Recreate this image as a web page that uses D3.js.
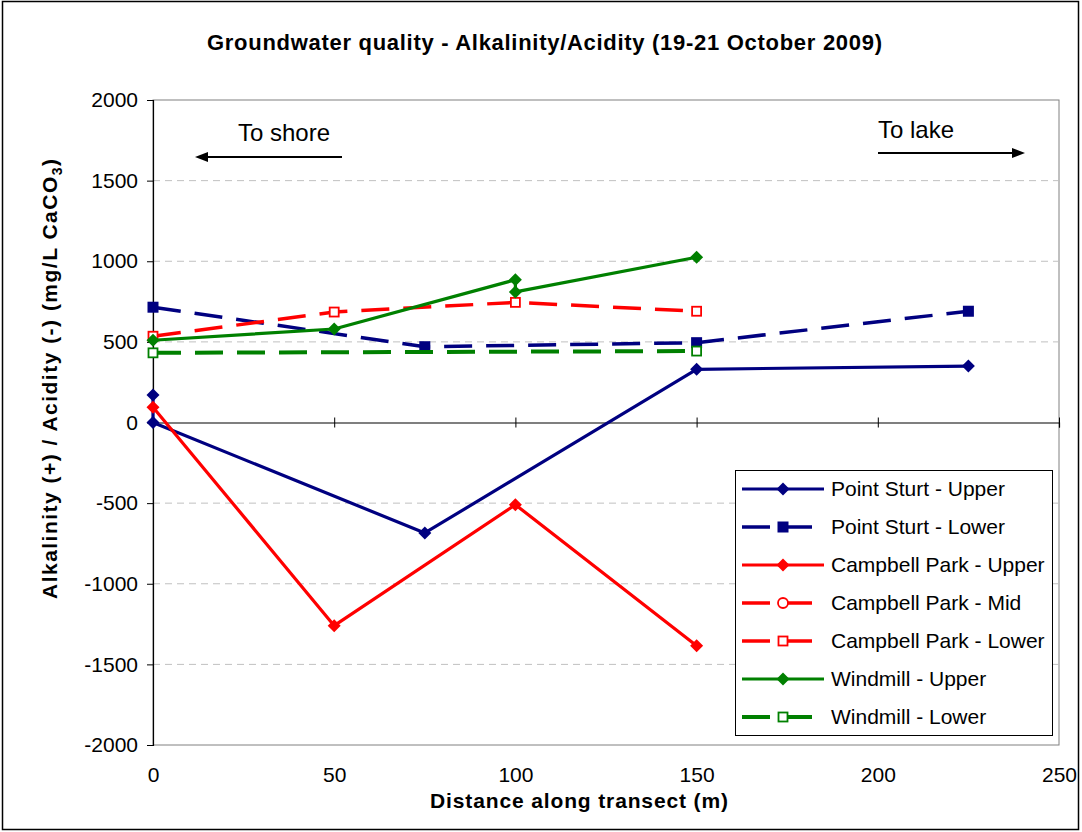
<!DOCTYPE html>
<html>
<head>
<meta charset="utf-8">
<script src="https://cdn.jsdelivr.net/npm/d3@7"></script>
<style>
  html, body { margin: 0; padding: 0; background: #fff; }
  svg { display: block; font-family: Arial, "Liberation Sans", sans-serif; }
</style>
</head>
<body>
<svg id="chart" width="1082" height="832"></svg>
<script>
// Alkalinity (+) / acidity (-) along each transect, mg/L CaCO3
const xTicks = [0, 50, 100, 150, 200, 250];
const yTicks = [-2000, -1500, -1000, -500, 0, 500, 1000, 1500, 2000];

const pointSturtUpperX = [0, 0, 75, 150, 225];
const pointSturtUpperY = [170, 0, -685, 330, 350];

const pointSturtLowerX = [0, 75, 150, 225];
const pointSturtLowerY = [715, 470, 495, 690];

const campbellUpperX = [0, 50, 100, 150];
const campbellUpperY = [95, -1260, -510, -1385];

const campbellMidX = [];
const campbellMidY = [];

const campbellLowerX = [0, 50, 100, 150];
const campbellLowerY = [535, 685, 745, 690];

const windmillUpperX = [0, 50, 100, 100, 150];
const windmillUpperY = [510, 580, 885, 810, 1025];

const windmillLowerX = [0, 150];
const windmillLowerY = [432, 443];

const seriesNames = [
  "Point Sturt - Upper", "Point Sturt - Lower",
  "Campbell Park - Upper", "Campbell Park - Mid", "Campbell Park - Lower",
  "Windmill - Upper", "Windmill - Lower"
];

const NAVY = "#000080", RED = "#FF0000", GREEN = "#008000";

const series = [
  { name: seriesNames[0], xs: pointSturtUpperX, ys: pointSturtUpperY, color: NAVY,  dash: null,    width: 3.2, marker: "diamond" },
  { name: seriesNames[1], xs: pointSturtLowerX, ys: pointSturtLowerY, color: NAVY,  dash: "28,14", width: 3.5, marker: "square" },
  { name: seriesNames[2], xs: campbellUpperX,   ys: campbellUpperY,   color: RED,   dash: null,    width: 3.2, marker: "diamond" },
  { name: seriesNames[3], xs: campbellMidX,     ys: campbellMidY,     color: RED,   dash: "28,14", width: 3.5, marker: "circleOpen" },
  { name: seriesNames[4], xs: campbellLowerX,   ys: campbellLowerY,   color: RED,   dash: "28,14", width: 3.5, marker: "squareOpen" },
  { name: seriesNames[5], xs: windmillUpperX,   ys: windmillUpperY,   color: GREEN, dash: null,    width: 3.2, marker: "diamond" },
  { name: seriesNames[6], xs: windmillLowerX,   ys: windmillLowerY,   color: GREEN, dash: "28,14", width: 4,   marker: "squareOpen" }
];

const svg = d3.select("#chart");

// outer chart frame
svg.append("rect")
  .attr("x", 2.5).attr("y", 1.5).attr("width", 1076).attr("height", 828)
  .attr("fill", "#fff").attr("stroke", "#000").attr("stroke-width", 1.5);

const plot = { left: 153, right: 1059, top: 100, bottom: 745 };

const x = d3.scaleLinear().domain([0, 250]).range([plot.left, plot.right]);
const y = d3.scaleLinear().domain([-2000, 2000]).range([plot.bottom, plot.top]);

const plainNumber = d => String(d);

// title
svg.append("text")
  .attr("x", 544.5).attr("y", 50)
  .attr("text-anchor", "middle")
  .attr("font-size", 22).attr("font-weight", "bold")
  .attr("textLength", 675)
  .text("Groundwater quality - Alkalinity/Acidity (19-21 October 2009)");

// plot area border
svg.append("rect")
  .attr("x", plot.left).attr("y", plot.top)
  .attr("width", plot.right - plot.left).attr("height", plot.bottom - plot.top)
  .attr("fill", "none").attr("stroke", "#808080").attr("stroke-width", 1);

// horizontal gridlines
svg.append("g")
  .selectAll("line")
  .data(yTicks.filter(v => v !== 0 && v !== 2000 && v !== -2000))
  .join("line")
  .attr("x1", plot.left).attr("x2", plot.right)
  .attr("y1", d => y(d)).attr("y2", d => y(d))
  .attr("stroke", "#c0c0c0").attr("stroke-width", 1)
  .attr("stroke-dasharray", "7,5");

// y axis
const yAxis = svg.append("g")
  .attr("transform", `translate(${plot.left},0)`)
  .call(d3.axisLeft(y).tickValues(yTicks).tickSize(6).tickPadding(9).tickFormat(plainNumber));
yAxis.select(".domain").attr("stroke", "#000").attr("stroke-width", 1.2);
yAxis.selectAll(".tick line").attr("stroke", "#000");
yAxis.selectAll(".tick text")
  .attr("font-size", 21).attr("font-family", "Arial, 'Liberation Sans', sans-serif")
  .attr("fill", "#000");

// x axis through zero, with ticks crossing the line
const xAxis = svg.append("g")
  .attr("transform", `translate(0,${y(0)})`)
  .call(d3.axisBottom(x).tickValues(xTicks).tickSize(5).tickFormat(""));
xAxis.select(".domain").attr("stroke", "#000").attr("stroke-width", 1.2);
xAxis.selectAll(".tick line").attr("y1", -5).attr("y2", 5).attr("stroke", "#000");

// x tick labels along the bottom edge
const xLabels = svg.append("g")
  .attr("transform", `translate(0,${plot.bottom})`)
  .call(d3.axisBottom(x).tickValues(xTicks).tickSize(0).tickPadding(22).tickFormat(plainNumber));
xLabels.select(".domain").remove();
xLabels.selectAll(".tick text")
  .attr("font-size", 21).attr("font-family", "Arial, 'Liberation Sans', sans-serif")
  .attr("fill", "#000");

// axis titles
svg.append("text")
  .attr("x", 579).attr("y", 808)
  .attr("text-anchor", "middle")
  .attr("font-size", 21).attr("font-weight", "bold")
  .attr("textLength", 298)
  .text("Distance along transect (m)");

const yTitle = svg.append("text")
  .attr("transform", "translate(57,379) rotate(-90)")
  .attr("text-anchor", "middle")
  .attr("font-size", 21).attr("font-weight", "bold")
  .attr("textLength", 440);
yTitle.append("tspan").text("Alkalinity (+) / Acidity (-)  (mg/L CaCO");
yTitle.append("tspan").attr("font-size", 14).attr("dy", 5).text("3");
yTitle.append("tspan").attr("dy", -5).text(")");

// direction annotations
svg.append("text").attr("x", 238).attr("y", 141).attr("font-size", 24).text("To shore");
svg.append("line").attr("x1", 342).attr("x2", 205).attr("y1", 157).attr("y2", 157)
  .attr("stroke", "#000").attr("stroke-width", 2);
svg.append("path").attr("d", "M195,157 L208,152 L208,162 Z").attr("fill", "#000");

svg.append("text").attr("x", 878).attr("y", 138).attr("font-size", 24).text("To lake");
svg.append("line").attr("x1", 878).attr("x2", 1014).attr("y1", 153).attr("y2", 153)
  .attr("stroke", "#000").attr("stroke-width", 2);
svg.append("path").attr("d", "M1025,153 L1012,148 L1012,158 Z").attr("fill", "#000");

// marker shapes
function drawMarker(sel, kind, color) {
  if (kind === "diamond") {
    sel.append("path").attr("d", "M0,-6.5 L6.5,0 L0,6.5 L-6.5,0 Z").attr("fill", color);
  } else if (kind === "square") {
    sel.append("rect").attr("x", -5.5).attr("y", -5.5).attr("width", 11).attr("height", 11).attr("fill", color);
  } else if (kind === "squareOpen") {
    sel.append("rect").attr("x", -4.5).attr("y", -4.5).attr("width", 9).attr("height", 9)
      .attr("fill", "#fff").attr("stroke", color).attr("stroke-width", 1.8);
  } else if (kind === "circleOpen") {
    sel.append("circle").attr("r", 5).attr("fill", "#fff").attr("stroke", color).attr("stroke-width", 1.8);
  }
}

const line = d3.line().x(d => x(d[0])).y(d => y(d[1]));

// series lines and markers
series.forEach(s => {
  const pts = s.xs.map((v, i) => [v, s.ys[i]]);
  const g = svg.append("g");
  g.append("path")
    .datum(pts)
    .attr("d", line)
    .attr("fill", "none")
    .attr("stroke", s.color)
    .attr("stroke-width", s.width)
    .attr("stroke-dasharray", s.dash)
    .attr("stroke-linejoin", "round");
  g.selectAll("g.m")
    .data(pts)
    .join("g")
    .attr("class", "m")
    .attr("transform", d => `translate(${x(d[0])},${y(d[1])})`)
    .each(function () { drawMarker(d3.select(this), s.marker, s.color); });
});

// legend
const legend = svg.append("g");
legend.append("rect")
  .attr("x", 735.5).attr("y", 470.5).attr("width", 317).attr("height", 265)
  .attr("fill", "#fff").attr("stroke", "#000").attr("stroke-width", 1);

series.forEach((s, i) => {
  const ry = 489 + i * 38;
  const row = legend.append("g");
  row.append("line")
    .attr("x1", 742).attr("x2", 824).attr("y1", ry).attr("y2", ry)
    .attr("stroke", s.color).attr("stroke-width", s.width)
    .attr("stroke-dasharray", s.dash ? "28,14" : null);
  const mk = row.append("g").attr("transform", `translate(783,${ry})`);
  drawMarker(mk, s.marker, s.color);
  row.append("text")
    .attr("x", 831).attr("y", ry)
    .attr("dy", "0.35em")
    .attr("font-size", 21)
    .text(s.name);
});
</script>
</body>
</html>
